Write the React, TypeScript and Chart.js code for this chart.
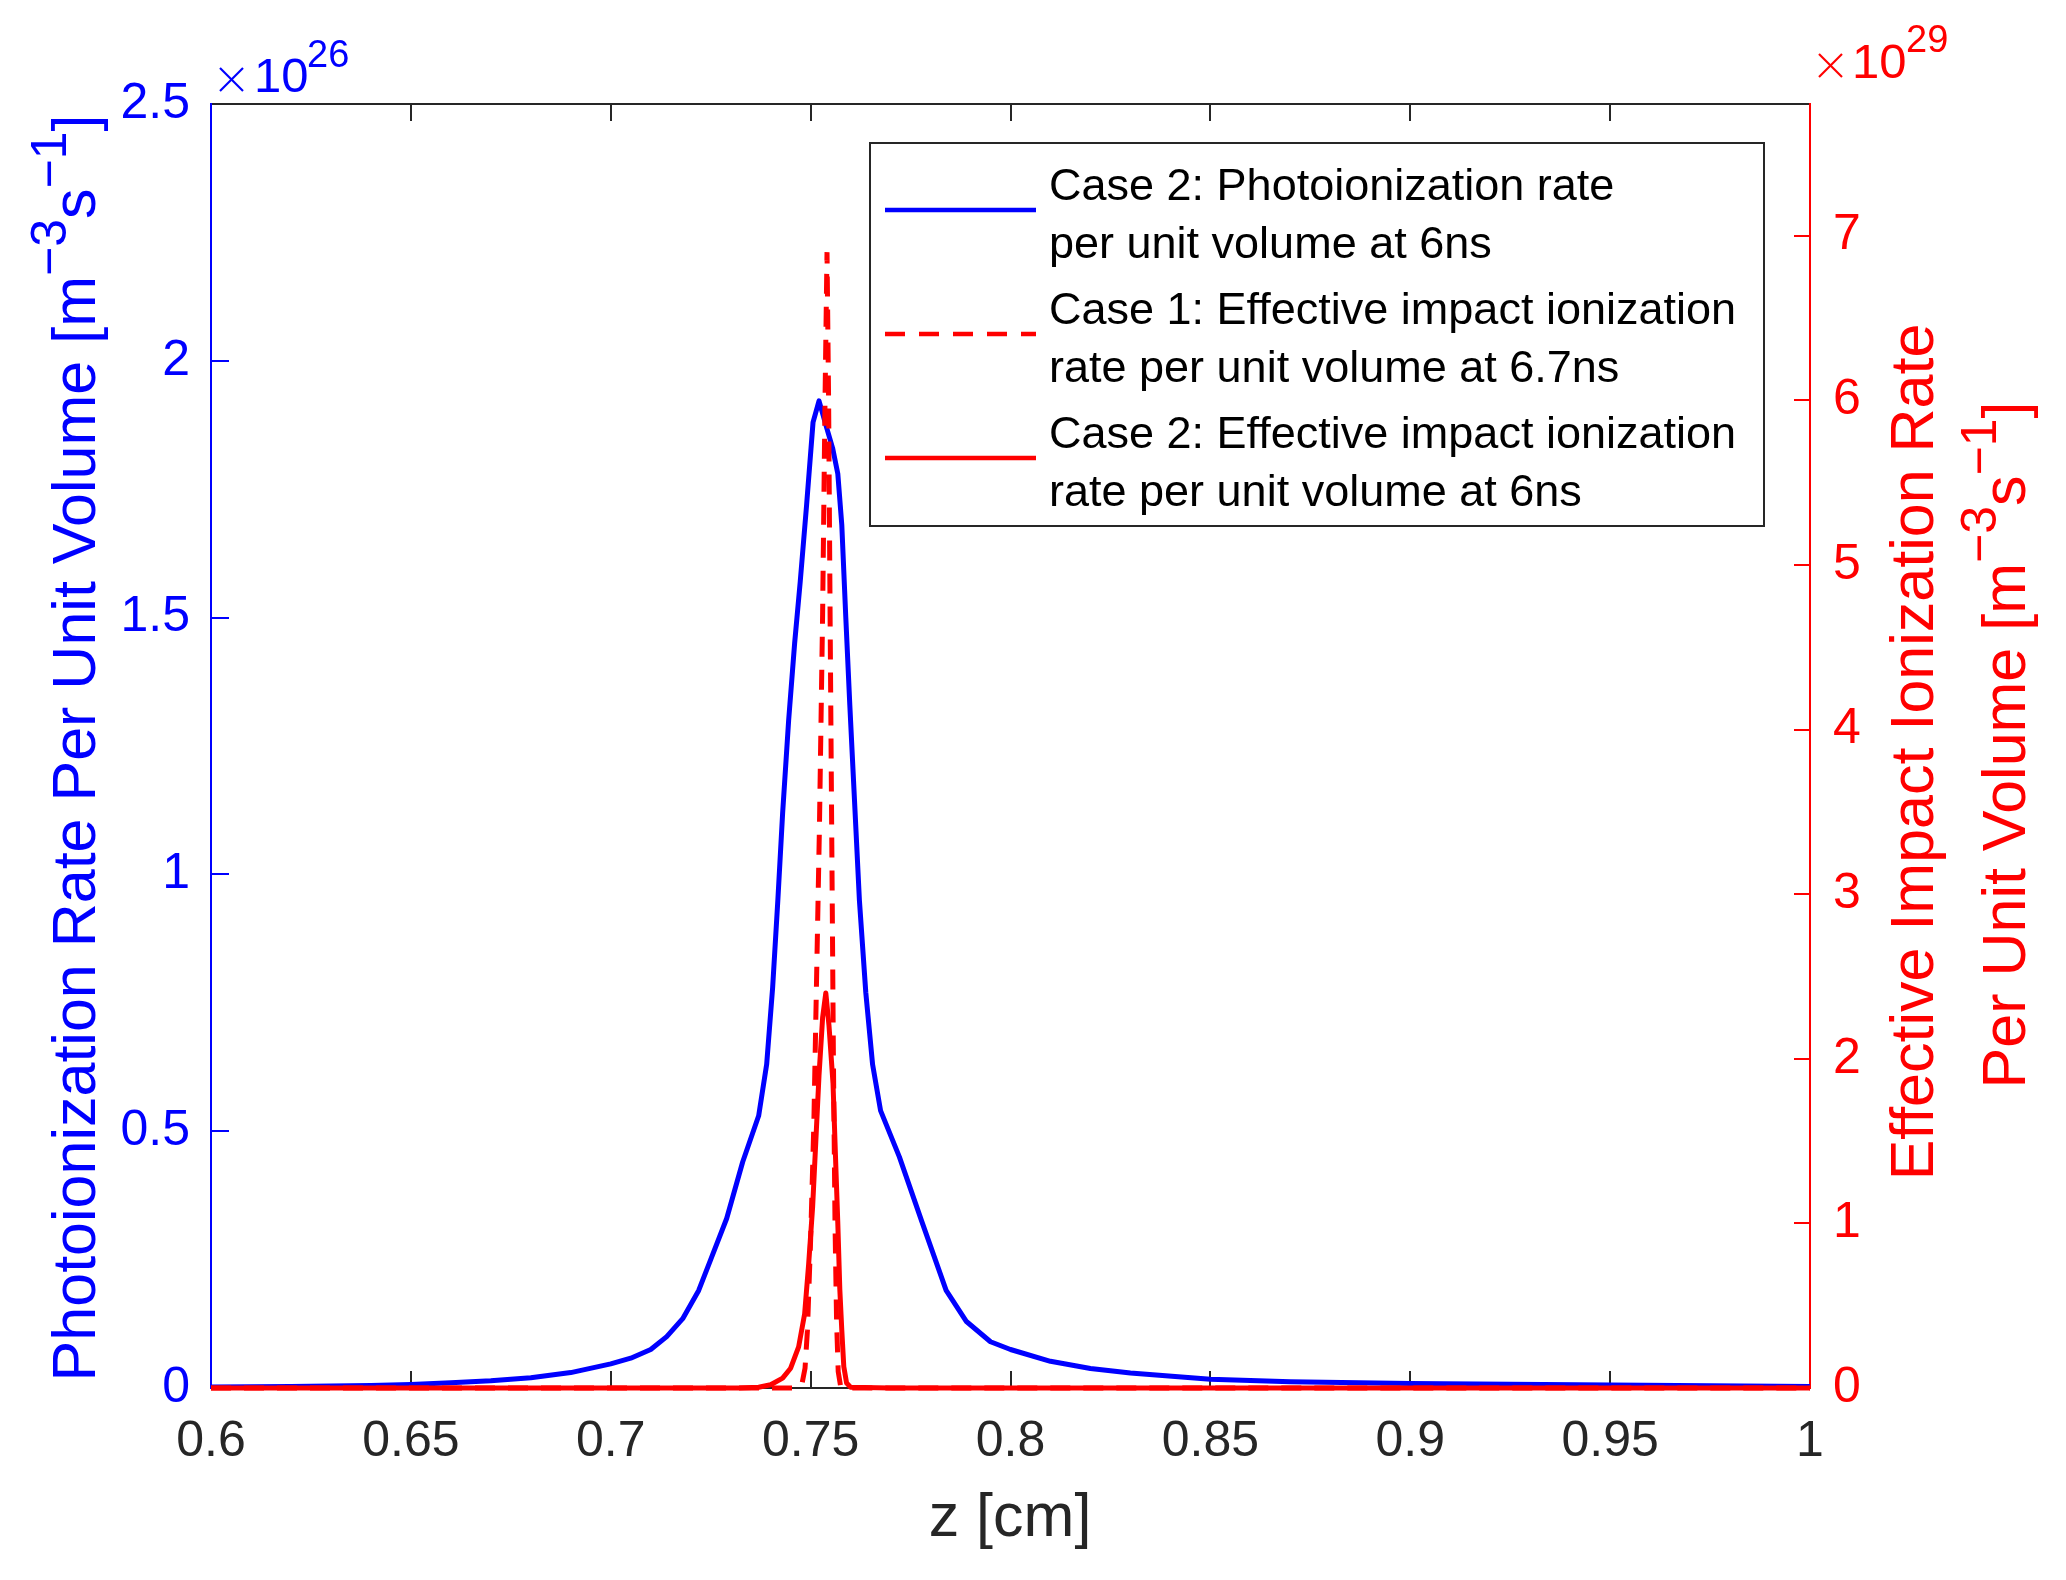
import React, { useEffect, useRef } from "react";
import { Chart, registerables } from "chart.js";

Chart.register(...registerables);

// z [cm] samples and photoionization rate (x1e26 m^-3 s^-1), case 2 at 6ns
const photoZ = [
  0.6, 0.62, 0.64, 0.65, 0.66, 0.67, 0.68, 0.69, 0.7, 0.705, 0.71, 0.714, 0.718,
  0.722, 0.725, 0.729, 0.733, 0.737, 0.739, 0.7405, 0.7418, 0.743, 0.7445,
  0.746, 0.7474, 0.749, 0.7506, 0.7521, 0.754, 0.7555, 0.7568, 0.7578, 0.7588,
  0.7598, 0.761, 0.7622, 0.7638, 0.7655, 0.7675, 0.7722, 0.778, 0.7839,
  0.7889, 0.795, 0.8, 0.81, 0.82, 0.83, 0.85, 0.87, 0.9, 0.95, 1.0,
];
const photoRate = [
  0.002, 0.003, 0.005, 0.007, 0.01, 0.014, 0.02, 0.03, 0.047, 0.058, 0.075, 0.1,
  0.135, 0.19, 0.25, 0.33, 0.44, 0.53, 0.63, 0.78, 0.95, 1.12, 1.3, 1.45, 1.57,
  1.72, 1.88, 1.922, 1.87, 1.83, 1.78, 1.68, 1.5, 1.33, 1.14, 0.95, 0.77, 0.63,
  0.54, 0.45, 0.32, 0.19, 0.13, 0.09, 0.075, 0.052, 0.038, 0.029, 0.017, 0.012,
  0.009, 0.006, 0.003,
];

// effective impact ionization rate (x1e29 m^-3 s^-1), case 1 at 6.7ns
const case1Z = [
  0.6, 0.746, 0.7478, 0.7486, 0.7492, 0.75, 0.7508, 0.7515, 0.7522, 0.753,
  0.7536, 0.7541, 0.7545, 0.7549, 0.7553, 0.7557, 0.7561, 0.7565, 0.7569,
  0.7575, 0.76, 1.0,
];
const case1Rate = [
  0, 0, 0.02, 0.12, 0.35, 0.9, 1.6, 2.5, 3.4, 4.7, 6.0, 6.9, 6.0, 4.6, 3.3, 2.0,
  1.0, 0.4, 0.1, 0.01, 0, 0,
];

// effective impact ionization rate (x1e29 m^-3 s^-1), case 2 at 6ns
const case2Z = [
  0.6, 0.732, 0.737, 0.74, 0.743, 0.745, 0.747, 0.7485, 0.7495, 0.7505, 0.7513,
  0.7521, 0.753, 0.7538, 0.7546, 0.7556, 0.7563, 0.7568, 0.7573, 0.7578,
  0.7583, 0.759, 0.76, 0.77, 1.0,
];
const case2Rate = [
  0, 0, 0.005, 0.02, 0.06, 0.12, 0.25, 0.45, 0.75, 1.1, 1.5, 1.9, 2.25, 2.4,
  2.2, 1.85, 1.35, 1.0, 0.6, 0.35, 0.13, 0.03, 0.005, 0, 0,
];

const zTicks = [0.6, 0.65, 0.7, 0.75, 0.8, 0.85, 0.9, 0.95, 1];
const zTickLabels = ["0.6", "0.65", "0.7", "0.75", "0.8", "0.85", "0.9", "0.95", "1"];
const leftTicks = [0, 0.5, 1, 1.5, 2, 2.5];
const leftTickLabels = ["0", "0.5", "1", "1.5", "2", "2.5"];
const rightTicks = [0, 1, 2, 3, 4, 5, 6, 7];
const rightTickLabels = ["0", "1", "2", "3", "4", "5", "6", "7"];

const legendLines = [
  ["Case 2: Photoionization rate", "per unit volume at 6ns"],
  ["Case 1: Effective impact ionization", "rate per unit volume at 6.7ns"],
  ["Case 2: Effective impact ionization", "rate per unit volume at 6ns"],
];

const FONT = '"Liberation Sans", Arial, Helvetica, sans-serif';
const AXIS = "#262626";
const BLUE = "#0000ff";
const RED = "#ff0000";

interface Seg {
  text: string;
  sup?: boolean;
}

const toPoints = (xs: number[], ys: number[]) =>
  xs.map((x, i) => ({ x, y: ys[i] }));

// draw text with superscripts, centred on (cx, cy); baseline at cy
function drawRich(
  ctx: CanvasRenderingContext2D,
  segs: Seg[],
  cx: number,
  cy: number,
  color: string,
  rotate: boolean,
) {
  const size = 61;
  const supSize = 50;
  const raise = 29;
  ctx.save();
  ctx.translate(cx, cy);
  if (rotate) ctx.rotate(-Math.PI / 2);
  ctx.fillStyle = color;
  ctx.textAlign = "left";
  ctx.textBaseline = "alphabetic";
  const widths = segs.map((s) => {
    ctx.font = `${s.sup ? supSize : size}px ${FONT}`;
    return ctx.measureText(s.text).width;
  });
  const total = widths.reduce((a, b) => a + b, 0);
  let x = -total / 2;
  segs.forEach((s, i) => {
    ctx.font = `${s.sup ? supSize : size}px ${FONT}`;
    ctx.fillText(s.text, x, s.sup ? -raise : 0);
    x += widths[i];
  });
  ctx.restore();
}

const line = (
  ctx: CanvasRenderingContext2D,
  x1: number,
  y1: number,
  x2: number,
  y2: number,
) => {
  ctx.beginPath();
  ctx.moveTo(x1, y1);
  ctx.lineTo(x2, y2);
  ctx.stroke();
};

// thin multiplication cross used in the exponent labels
const drawTimes = (
  ctx: CanvasRenderingContext2D,
  x: number,
  y: number,
  size: number,
  color: string,
) => {
  ctx.save();
  ctx.strokeStyle = color;
  ctx.lineWidth = 2.2;
  line(ctx, x, y, x + size, y + size);
  line(ctx, x + size, y, x, y + size);
  ctx.restore();
};

// matlab style box with inward ticks, drawn under the data
const frameAndTicks = {
  id: "frameAndTicks",
  beforeDatasetsDraw(chart: Chart) {
    const { ctx, chartArea, scales } = chart;
    const { left, right, top, bottom } = chartArea;
    ctx.save();
    ctx.lineWidth = 2;
    ctx.strokeStyle = AXIS;
    zTicks.forEach((v) => {
      const px = Math.round(scales.x.getPixelForValue(v));
      line(ctx, px, bottom, px, bottom - 17);
      line(ctx, px, top, px, top + 17);
    });
    ctx.strokeStyle = BLUE;
    leftTicks.forEach((v) => {
      const py = Math.round(scales.y.getPixelForValue(v));
      line(ctx, left, py, left + 18, py);
    });
    ctx.strokeStyle = RED;
    rightTicks.forEach((v) => {
      const py = Math.round(scales.y2.getPixelForValue(v));
      line(ctx, right, py, right - 16, py);
    });
    ctx.strokeStyle = AXIS;
    line(ctx, left, top, right, top);
    line(ctx, left, bottom, right, bottom);
    ctx.strokeStyle = BLUE;
    line(ctx, left, top - 1, left, bottom + 1);
    ctx.strokeStyle = RED;
    line(ctx, right, top - 1, right, bottom + 1);
    ctx.restore();
  },
};

// titles, exponent labels and the legend box
const decorations = {
  id: "decorations",
  afterDraw(chart: Chart) {
    const { ctx } = chart;
    ctx.save();

    drawRich(
      ctx,
      [
        { text: "Photoionization Rate Per Unit Volume [m" },
        { text: "\u22123", sup: true },
        { text: "s" },
        { text: "\u22121", sup: true },
        { text: "]" },
      ],
      95,
      748,
      BLUE,
      true,
    );
    drawRich(ctx, [{ text: "Effective Impact Ionization Rate" }], 1933, 752, RED, true);
    drawRich(
      ctx,
      [
        { text: "Per Unit Volume [m" },
        { text: "\u22123", sup: true },
        { text: "s" },
        { text: "\u22121", sup: true },
        { text: "]" },
      ],
      2025,
      745,
      RED,
      true,
    );
    drawRich(ctx, [{ text: "z [cm]" }], 1010, 1536, AXIS, false);

    // exponent labels
    ctx.textAlign = "left";
    ctx.textBaseline = "alphabetic";
    drawTimes(ctx, 220, 68, 23, BLUE);
    ctx.fillStyle = BLUE;
    ctx.font = `49px ${FONT}`;
    ctx.fillText("10", 254, 92);
    ctx.font = `38px ${FONT}`;
    ctx.fillText("26", 307, 67);
    drawTimes(ctx, 1819, 54, 23, RED);
    ctx.fillStyle = RED;
    ctx.font = `49px ${FONT}`;
    ctx.fillText("10", 1852, 78);
    ctx.font = `38px ${FONT}`;
    ctx.fillText("29", 1906, 52);

    // legend
    const bx = 870;
    const by = 143;
    const bw = 894;
    const bh = 383;
    ctx.fillStyle = "#ffffff";
    ctx.fillRect(bx, by, bw, bh);
    ctx.lineWidth = 2;
    ctx.strokeStyle = AXIS;
    ctx.strokeRect(bx, by, bw, bh);

    const styles = [
      { color: BLUE, dash: [] as number[] },
      { color: RED, dash: [20, 14] },
      { color: RED, dash: [] as number[] },
    ];
    legendLines.forEach((lines, i) => {
      const base = 200 + i * 124;
      ctx.save();
      ctx.strokeStyle = styles[i].color;
      ctx.lineWidth = 4.5;
      ctx.setLineDash(styles[i].dash);
      line(ctx, 885, base + 10, 1036, base + 10);
      ctx.restore();
      ctx.fillStyle = "#000000";
      ctx.font = `45px ${FONT}`;
      ctx.fillText(lines[0], 1049, base);
      ctx.fillText(lines[1], 1049, base + 58);
    });

    ctx.restore();
  },
};

export default function App() {
  const canvasRef = useRef<HTMLCanvasElement>(null);
  const chartRef = useRef<Chart | null>(null);

  useEffect(() => {
    if (!canvasRef.current) return;
    const ctx = canvasRef.current.getContext("2d");
    if (!ctx) return;

    if (chartRef.current) {
      chartRef.current.destroy();
      chartRef.current = null;
    }

    chartRef.current = new Chart(ctx, {
      type: "line",
      data: {
        datasets: [
          {
            label: "Case 2: Photoionization rate per unit volume at 6ns",
            data: toPoints(photoZ, photoRate),
            yAxisID: "y",
            borderColor: BLUE,
            borderWidth: 5,
            pointRadius: 0,
            tension: 0,
            borderJoinStyle: "round",
            clip: 8,
            order: 3,
          },
          {
            label: "Case 1: Effective impact ionization rate per unit volume at 6.7ns",
            data: toPoints(case1Z, case1Rate),
            yAxisID: "y2",
            borderColor: RED,
            borderWidth: 5,
            borderDash: [20, 13],
            pointRadius: 0,
            tension: 0,
            clip: 8,
            order: 2,
          },
          {
            label: "Case 2: Effective impact ionization rate per unit volume at 6ns",
            data: toPoints(case2Z, case2Rate),
            yAxisID: "y2",
            borderColor: RED,
            borderWidth: 5,
            pointRadius: 0,
            tension: 0,
            borderJoinStyle: "round",
            clip: 8,
            order: 1,
          },
        ],
      },
      options: {
        responsive: false,
        animation: false,
        devicePixelRatio: 1,
        layout: { padding: { top: 104, left: 0, right: 0, bottom: 0 } },
        plugins: {
          legend: { display: false },
          tooltip: { enabled: false },
        },
        scales: {
          x: {
            type: "linear",
            min: 0.6,
            max: 1,
            grid: { display: false, drawTicks: false },
            border: { display: false },
            afterBuildTicks: (s: any) => {
              s.ticks = zTicks.map((value) => ({ value }));
            },
            afterFit: (s: any) => {
              s.height = 192;
            },
            ticks: {
              autoSkip: false,
              maxRotation: 0,
              padding: 24,
              color: AXIS,
              font: { size: 50, family: FONT },
              callback: (_v: any, i: number) => zTickLabels[i],
            },
          },
          y: {
            type: "linear",
            position: "left",
            min: 0,
            max: 2.5,
            grid: { display: false, drawTicks: false },
            border: { display: false },
            afterBuildTicks: (s: any) => {
              s.ticks = leftTicks.map((value) => ({ value }));
            },
            afterFit: (s: any) => {
              s.width = 211;
            },
            ticks: {
              padding: 21,
              color: BLUE,
              font: { size: 50, family: FONT },
              callback: (_v: any, i: number) => leftTickLabels[i],
            },
          },
          y2: {
            type: "linear",
            position: "right",
            min: 0,
            max: 7.8,
            grid: { display: false, drawTicks: false },
            border: { display: false },
            afterBuildTicks: (s: any) => {
              s.ticks = rightTicks.map((value) => ({ value }));
            },
            afterFit: (s: any) => {
              s.width = 256;
            },
            ticks: {
              padding: 23,
              color: RED,
              font: { size: 50, family: FONT },
              callback: (_v: any, i: number) => rightTickLabels[i],
            },
          },
        },
      },
      plugins: [frameAndTicks, decorations],
    });

    return () => {
      if (chartRef.current) {
        chartRef.current.destroy();
        chartRef.current = null;
      }
    };
  }, []);

  return (
    <div style={{ position: "absolute", left: 0, top: 0, width: 2066, height: 1580, background: "#fff" }}>
      <canvas
        ref={canvasRef}
        width={2066}
        height={1580}
        style={{ display: "block" }}
        aria-label="Photoionization and effective impact ionization rate vs z"
      />
    </div>
  );
}
